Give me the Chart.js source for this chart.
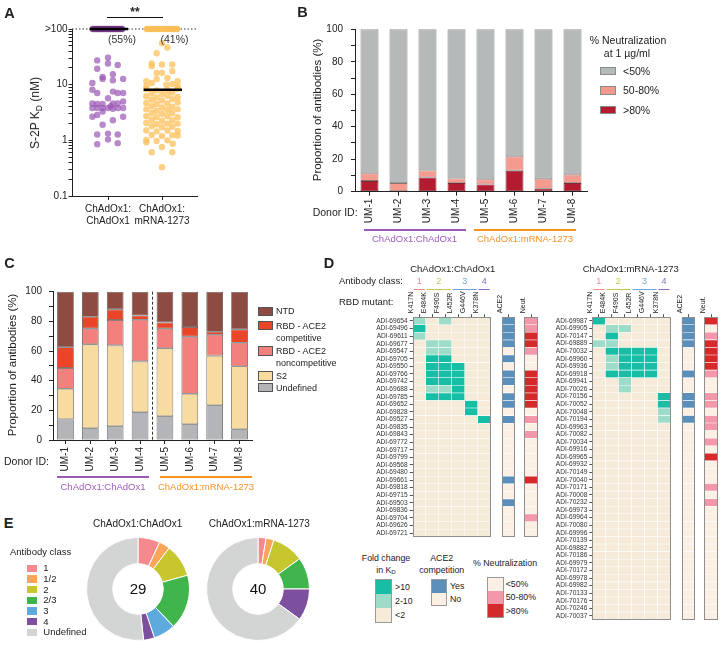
<!DOCTYPE html>
<html><head><meta charset="utf-8"><title>Figure</title>
<script src="https://cdn.jsdelivr.net/npm/chart.js@4.4.1/dist/chart.umd.min.js"></script>
<style>
html,body{margin:0;padding:0;background:#fff;}
#root{position:relative;width:721px;height:652px;overflow:hidden;font-family:"Liberation Sans",Arial,Helvetica,sans-serif;color:#222;}
#root canvas{position:absolute;}
.t{position:absolute;white-space:nowrap;line-height:1;}
.t sub{font-size:0.7em;vertical-align:-0.3em;line-height:0;}
</style></head><body><div id="root"></div>
<script>
// ================= DATA =================
// ---- Panel A: S-2P KD (nM) ----
const xLabelsA = [['ChAdOx1:', 'ChAdOx1'], ['ChAdOx1:', 'mRNA-1273']];
const kdTickValues = [0.1, 1, 10, 100];
const kdTickLabels = ['0.1', '1', '10', '>100'];
const purpleKd = [30.5,27.3,24.0,22.5,19.3,15.4,13.8,12.7,12.0,12.7,10.7,8.1,7.1,7.5,7.1,7.1,5.7,4.6,4.5,4.5,4.6,4.6,5.0,3.8,3.8,3.8,3.8,3.7,3.8,3.8,4.1,3.3,2.65,2.85,2.3,2.65,1.9,1.27,1.32,1.04,1.27,0.85,0.89];
const purpleJit = [0,-0.2,0,0.18,-0.2,0.09,-0.1,-0.1,0.09,0.28,-0.29,-0.29,-0.2,0.09,0.18,0.28,0,-0.29,-0.2,-0.1,0.09,0.18,0.28,-0.29,-0.2,-0.1,0,0.09,0.18,0.28,0.05,-0.1,-0.29,-0.2,0.09,0.28,-0.1,-0.2,0,0,0.18,-0.2,0.18];
const purpleTopJit = [-0.28,-0.25,-0.22,-0.19,-0.16,-0.13,-0.1,-0.07,-0.04,-0.01,0.02,0.05,0.08,0.11,0.14,0.17,0.2,0.23,0.26];
const yellowKd = [55.6,46.4,36.6,24.1,23.1,23.1,21.5,16.3,16.3,17.5,13.2,12.7,11.5,11.5,10.7,10.0,9.3,9.3,10.3,
  8.3,7.9,8.0,8.4, 7.1,6.8,7.2, 6.2,5.9,6.3,6.0, 5.4,5.2,5.5, 4.7,4.5,4.6,4.8, 4.1,3.9,4.0, 3.6,3.4,3.5,3.6,
  3.1,3.0,3.1, 2.7,2.6,2.7,2.6, 2.35,2.25,2.3, 2.05,1.95,2.0,2.0, 1.8,1.72,1.76, 1.5,1.45,1.5,1.47,
  1.25,1.2,1.24,1.22, 1.02,0.97,1.0, 0.87,0.76,0.61,0.61,0.33,0.92];
const yellowJit = [0,0.1,-0.1,-0.19,0,0.19,-0.19,-0.1,0,0.19,0.1,-0.1,-0.29,0.29,-0.19,0.08,-0.29,0.29,0.19,
  -0.29,-0.1,0.1,0.29, -0.19,0,0.19, -0.29,-0.1,0.1,0.29, -0.19,0,0.19, -0.29,-0.1,0.1,0.29, -0.19,0,0.19, -0.29,-0.1,0.1,0.29,
  -0.19,0,0.19, -0.29,-0.1,0.1,0.29, -0.19,0,0.19, -0.29,-0.1,0.1,0.29, -0.19,0,0.19, -0.29,-0.1,0.1,0.29,
  -0.19,0,0.19,0.29, -0.29,-0.1,0.1, 0.2,0,-0.19,0.19,0,-0.29];
const yellowTopJit = [-0.28,-0.22,-0.17,-0.11,-0.06,0,0.06,0.11,0.17,0.22,0.28];
const kdMedians = [100, 8.1];
const topPct = ['(55%)', '(41%)'];

// ---- Panel B: % neutralization at 1 ug/ml ----
const donors = ['UM-1','UM-2','UM-3','UM-4','UM-5','UM-6','UM-7','UM-8'];
const neutBins = ['<50%', '50-80%', '>80%'];
const neutOver80 = [6.6, 0, 8.8, 5.3, 4.5, 12.9, 1.8, 5.3];
const neut50to80 = [4.7, 5.3, 4.3, 2.9, 3.1, 8.9, 6.2, 5.4];
const neutUnder50 = [88.7, 94.7, 86.9, 91.8, 92.4, 78.2, 92.0, 89.3];

// ---- Panel C: epitope specificity ----
const epitopeNames = ['NTD', 'RBD - ACE2\ncompetitive', 'RBD - ACE2\nnoncompetitive', 'S2', 'Undefined'];
const undefinedPct = [13.9, 7.9, 9.2, 18.7, 16.0, 10.6, 23.4, 7.2];
const s2Pct = [20.7, 56.6, 54.6, 34.3, 45.8, 20.6, 33.5, 42.5];
const rbdNoncompPct = [13.9, 10.6, 17.1, 28.1, 13.3, 38.5, 14.1, 15.9];
const rbdCompPct = [14.0, 8.0, 7.2, 2.9, 4.2, 6.5, 2.0, 9.0];
const ntdPct = [37.5, 16.9, 11.9, 16.0, 20.7, 23.8, 27.0, 25.4];

// ---- Panel D: heatmaps (fold: 0 <2, 1 2-10, 2 >10; ace2: 0 No, 1 Yes; neut: 0 <50, 1 50-80, 2 >80) ----
const mutants = ['K417N','E484K','F490S','L452R','G446V','K378N'];
const leftIds = ['ADI-69654','ADI-69496','ADI-69611','ADI-69677','ADI-69547','ADI-69705','ADI-69550','ADI-69766','ADI-69742','ADI-69688','ADI-69785','ADI-69652','ADI-69828','ADI-69527','ADI-69835','ADI-69843','ADI-69772','ADI-69717','ADI-69799','ADI-69568','ADI-69480','ADI-69661','ADI-69818','ADI-69715','ADI-69503','ADI-69836','ADI-69704','ADI-69626','ADI-69721'];
const leftFold = ['101000','200000','100000','011000','011000','022000','022200','022200','022200','011200','022200','000020','000020','000002',
  '000000','000000','000000','000000','000000','000000','000000','000000','000000','000000','000000','000000','000000','000000','000000'];
const leftAce2 = [1,1,1,1,0,1,0,1,1,0,1,1,0,1,0,0,0,0,0,0,0,1,0,0,1,0,0,0,0];
const leftNeut = [1,1,2,2,1,0,0,2,2,2,2,2,0,1,0,1,0,0,0,0,0,2,0,0,0,0,1,0,0];
const rightIds = ['ADI-69987','ADI-69905','ADI-70147','ADI-69889','ADI-70032','ADI-69960','ADI-69936','ADI-69918','ADI-69941','ADI-70026','ADI-70156','ADI-70052','ADI-70048','ADI-70194','ADI-69963','ADI-70082','ADI-70034','ADI-69916','ADI-69965','ADI-69932','ADI-70149','ADI-70040','ADI-70171','ADI-70008','ADI-70232','ADI-69973','ADI-69964','ADI-70080','ADI-69996','ADI-70139','ADI-69882','ADI-70186','ADI-69979','ADI-70172','ADI-69978','ADI-69982','ADI-70133','ADI-70176','ADI-70246','ADI-70037'];
const rightFold = ['200000','011000','020000','110000','022220','012220','012220','022220','001000','001000','000002','000002','000001','000001',
  '000000','000000','000000','000000','000000','000000','000000','000000','000000','000000','000000','000000','000000','000000','000000','000000',
  '000000','000000','000000','000000','000000','000000','000000','000000','000000','000000'];
const rightAce2 = [1,1,1,1,0,0,0,1,0,0,1,1,0,1,0,0,0,0,0,0,0,0,0,0,0,0,0,0,0,0,0,0,0,0,0,0,0,0,0,0];
const rightNeut = [2,0,1,2,2,2,2,1,0,0,1,1,0,1,1,0,1,0,2,0,0,0,1,0,1,0,0,0,0,0,0,0,0,0,0,0,0,0,0,0];

// ---- Panel E: antibody class ----
const classLabels = ['1','1/2','2','2/3','3','4','Undefined'];
const classCountsCC = [2,1,3,5,2,1,15];
const classCountsCM = [1,1,4,4,0,4,26];

// ================= STYLE =================
const FONT = '"Liberation Sans", Arial, Helvetica, sans-serif';
const PURPLE = '#9b59b6', ORANGE = '#f7941d', PURPLE_T = '#a05bbd', ORANGE_T = '#f5922a';
const NEUT_B_COLORS = ['#b6b9b9', '#f59a8f', '#b41a30'];
const EPI_COLORS = ['#8d4b41', '#ea4527', '#f3807c', '#f7dba0', '#b3b5b8'];
const FOLD_COL = ['#f6ebd9', '#9edcca', '#17bea5'];
const ACE2_COL = ['#fcefe3', '#5a8fbb'];
const NEUT_COL = ['#fcefe3', '#f397aa', '#d42a2a'];
const CLASS_COLORS = ['#f5898d', '#faa55a', '#c6c72e', '#3fb54b', '#5ea9de', '#7c4f9f', '#d3d4d4'];
const HEAD_COLORS = ['#f2888c', '#c3c84c', '#6fa6dc', '#8a6bbd'];
const ACE2_X = 6.85, NEUT_X = 8.6, COLW = 1.02, HEAT_MAX = 9.62;

Chart.defaults.font.family = FONT;
Chart.defaults.color = '#222';
Chart.defaults.animation = false;
Chart.defaults.events = [];
Chart.defaults.plugins.legend.display = false;
Chart.defaults.plugins.tooltip.enabled = false;
Chart.defaults.responsive = false;
Chart.defaults.maintainAspectRatio = false;

const root = document.getElementById('root');
function mkCanvas(x, y, w, h) {
  const c = document.createElement('canvas');
  c.width = w; c.height = h;
  c.style.left = x + 'px'; c.style.top = y + 'px'; c.style.width = w + 'px'; c.style.height = h + 'px';
  root.appendChild(c); return c;
}
function txt(x, y, html, o = {}) {
  const d = document.createElement('div'); d.className = 't'; d.innerHTML = html;
  d.style.left = x + 'px'; d.style.top = y + 'px';
  d.style.fontSize = (o.size || 10) + 'px';
  if (o.bold) d.style.fontWeight = 'bold';
  if (o.color) d.style.color = o.color;
  const ax = o.align === 'left' ? '0%' : o.align === 'right' ? '-100%' : '-50%';
  d.style.transform = `translate(${ax},-50%)` + (o.rot ? ` rotate(${o.rot}deg)` : '');
  root.appendChild(d); return d;
}
function rect(x, y, w, h, style) {
  const d = document.createElement('div');
  d.style.cssText = `position:absolute;left:${x}px;top:${y}px;width:${w}px;height:${h}px;box-sizing:border-box;${style}`;
  root.appendChild(d); return d;
}
const esc = s => s.replace(/&/g, '&amp;').replace(/</g, '&lt;').replace(/>/g, '&gt;');

// ================= PANEL A =================
const aPlugin = {
  id: 'aExtras',
  beforeDatasetsDraw(chart) {
    const {ctx, chartArea: ca, scales: {y}} = chart;
    const py = y.getPixelForValue(100);
    ctx.save(); ctx.strokeStyle = '#333'; ctx.lineWidth = 1; ctx.setLineDash([1.5, 2]);
    ctx.beginPath(); ctx.moveTo(ca.left, py); ctx.lineTo(ca.right, py); ctx.stroke(); ctx.restore();
  },
  afterDatasetsDraw(chart) {
    const {ctx, scales: {x, y}} = chart;
    ctx.save(); ctx.strokeStyle = '#000'; ctx.lineWidth = 2.6;
    kdMedians.forEach((m, i) => {
      const py = y.getPixelForValue(m);
      ctx.beginPath(); ctx.moveTo(x.getPixelForValue(i + 1 - 0.34), py); ctx.lineTo(x.getPixelForValue(i + 1 + 0.37), py); ctx.stroke();
    });
    ctx.restore();
  }
};
const ptsA = (vals, jit, g) => vals.map((v, i) => ({x: g + jit[i], y: v}));
new Chart(mkCanvas(0, 0, 240, 240), {
  type: 'scatter',
  data: {datasets: [
    {data: ptsA(purpleKd, purpleJit, 1), backgroundColor: 'rgba(152,86,180,0.7)'},
    {data: purpleTopJit.map(j => ({x: 1 + j, y: 100})), backgroundColor: 'rgba(112,52,132,0.8)'},
    {data: ptsA(yellowKd, yellowJit, 2), backgroundColor: 'rgba(252,190,84,0.72)'},
    {data: yellowTopJit.map(j => ({x: 2 + j, y: 100})), backgroundColor: 'rgba(250,190,85,0.9)'}
  ].map(d => Object.assign(d, {pointRadius: 3.2, borderWidth: 0, clip: false}))},
  options: {
    devicePixelRatio: 1,
    layout: {padding: {left: 32, top: 29, right: 43, bottom: 10}},
    scales: {
      x: {type: 'linear', min: 0.333, max: 2.648,
        afterBuildTicks: s => { s.ticks = [{value: 1}, {value: 2}]; },
        afterFit: s => { s.height = 34; },
        grid: {drawOnChartArea: false, tickLength: 4, color: '#222'},
        border: {color: '#222'},
        ticks: {autoSkip: false, maxRotation: 0, padding: 3, font: {size: 10}, color: '#222',
          callback: (v, i) => xLabelsA[i]}},
      y: {type: 'logarithmic', min: 0.1, max: 100,
        afterBuildTicks: s => { const t = []; [0.1, 1, 10].forEach(e => { for (let k = 1; k < 10; k++) t.push({value: k * e}); }); t.push({value: 100}); s.ticks = t; },
        afterFit: s => { s.width = 40; },
        grid: {drawOnChartArea: false, tickLength: 3.5, color: '#222'},
        border: {color: '#222'},
        ticks: {autoSkip: false, padding: 1, font: {size: 10}, color: '#222',
          callback: v => { const i = kdTickValues.findIndex(t => Math.abs(v - t) < t * 1e-6); return i >= 0 ? kdTickLabels[i] : ''; }}}
    }
  },
  plugins: [aPlugin]
});

// ================= PANEL B =================
new Chart(mkCanvas(290, 0, 305, 250), {
  type: 'bar',
  data: {labels: donors, datasets: [
    {label: neutBins[2], data: neutOver80, backgroundColor: NEUT_B_COLORS[2], borderColor: '#7a2a33'},
    {label: neutBins[1], data: neut50to80, backgroundColor: NEUT_B_COLORS[1], borderColor: '#8a7470'},
    {label: neutBins[0], data: neutUnder50, backgroundColor: NEUT_B_COLORS[0], borderColor: '#707373'}
  ].map(d => Object.assign(d, {borderWidth: 0.9, borderSkipped: false, barPercentage: 0.62, categoryPercentage: 1}))},
  options: {
    devicePixelRatio: 1,
    layout: {padding: {left: 25, top: 29.3, right: 8, bottom: 23.3}},
    scales: {
      x: {stacked: true, afterFit: s => { s.height = 35; },
        grid: {drawOnChartArea: false, offset: false, tickLength: 4, color: '#222'}, border: {color: '#222'},
        ticks: {minRotation: 90, maxRotation: 90, padding: 3, font: {size: 10}, color: '#222'}},
      y: {stacked: true, min: 0, max: 100, afterFit: s => { s.width = 40; },
        grid: {drawOnChartArea: false, tickLength: 4, color: '#222'}, border: {color: '#222'},
        ticks: {stepSize: 10, autoSkip: false, padding: 8, font: {size: 10}, color: '#222', callback: v => (v % 20 === 0 ? v : '')}}
    }
  }
});

// ================= PANEL C =================
const cPlugin = {
  id: 'cDash',
  afterDatasetsDraw(chart) {
    const {ctx, chartArea: ca, scales: {x}} = chart;
    const px = (x.getPixelForValue(3) + x.getPixelForValue(4)) / 2;
    ctx.save(); ctx.strokeStyle = '#333'; ctx.lineWidth = 1; ctx.setLineDash([3, 2]);
    ctx.beginPath(); ctx.moveTo(px, ca.top); ctx.lineTo(px, ca.bottom); ctx.stroke(); ctx.restore();
  }
};
const cSeries = [undefinedPct, s2Pct, rbdNoncompPct, rbdCompPct, ntdPct];
const cColorIdx = [4, 3, 2, 1, 0];
new Chart(mkCanvas(0, 255, 265, 225), {
  type: 'bar',
  data: {labels: donors, datasets: cSeries.map((s, k) => ({
    label: epitopeNames[cColorIdx[k]], data: s, backgroundColor: EPI_COLORS[cColorIdx[k]],
    borderColor: '#4d4d4d', borderWidth: 0.8, borderSkipped: false, barPercentage: 0.67, categoryPercentage: 1}))},
  options: {
    devicePixelRatio: 1,
    layout: {padding: {left: 13, top: 36.7, right: 13, bottom: 5}},
    scales: {
      x: {stacked: true, afterFit: s => { s.height = 35; },
        grid: {drawOnChartArea: false, offset: false, tickLength: 4, color: '#222'}, border: {color: '#222'},
        ticks: {minRotation: 90, maxRotation: 90, padding: 3, font: {size: 10}, color: '#222'}},
      y: {stacked: true, min: 0, max: 100, afterFit: s => { s.width = 40; },
        grid: {drawOnChartArea: false, tickLength: 4, color: '#222'}, border: {color: '#222'},
        ticks: {stepSize: 10, autoSkip: false, padding: 7, font: {size: 10}, color: '#222', callback: v => (v % 20 === 0 ? v : '')}}
    }
  },
  plugins: [cPlugin]
});

// ================= PANEL D =================
const classGroups = [
  {label: '1', from: 0, to: 1, color: HEAD_COLORS[0]},
  {label: '2', from: 1, to: 3, color: HEAD_COLORS[1]},
  {label: '3', from: 3, to: 5, color: HEAD_COLORS[2]},
  {label: '4', from: 5, to: 6, color: HEAD_COLORS[3]}
];
const heatPlugin = {
  id: 'heat',
  afterDatasetsDraw(chart) {
    const {ctx, chartArea: ca, scales: {x}} = chart;
    ctx.save();
    ctx.strokeStyle = '#8e8e8e'; ctx.lineWidth = 1;
    [[0, mutants.length], [ACE2_X, ACE2_X + COLW], [NEUT_X, NEUT_X + COLW]].forEach(([a, b]) => {
      const x0 = Math.round(x.getPixelForValue(a)) + 0.5, x1 = Math.round(x.getPixelForValue(b)) - 0.5;
      const y0 = Math.round(ca.top) + 0.5, y1 = Math.round(ca.bottom) - 0.5;
      ctx.strokeRect(x0, y0, x1 - x0, y1 - y0);
    });
    ctx.font = '9px ' + FONT; ctx.textAlign = 'center'; ctx.textBaseline = 'middle';
    classGroups.forEach(g => {
      const x0 = x.getPixelForValue(g.from) + 1, x1 = x.getPixelForValue(g.to) - 1;
      ctx.strokeStyle = g.color; ctx.beginPath(); ctx.moveTo(x0, Math.round(ca.top - 28) + 0.5); ctx.lineTo(x1, Math.round(ca.top - 28) + 0.5); ctx.stroke();
      ctx.fillStyle = g.color; ctx.fillText(g.label, (x0 + x1) / 2, ca.top - 36);
    });
    ctx.restore();
  }
};
const heatColLabels = mutants.concat(['ACE2', 'Neut.']);
const heatTickPos = mutants.map((m, i) => i + 0.5).concat([ACE2_X + COLW / 2, NEUT_X + COLW / 2]);
function heatChart(canvas, ids, fold, ace2, neut, pad) {
  const ds = [];
  mutants.forEach((m, c) => ds.push({data: ids.map(() => [c, c + 1]), backgroundColor: fold.map(r => FOLD_COL[+r[c]]),
    borderColor: fold.map(r => +r[c] ? 'rgba(255,255,255,0.7)' : 'rgba(255,255,255,0.45)')}));
  ds.push({data: ids.map(() => [ACE2_X, ACE2_X + COLW]), backgroundColor: ace2.map(v => ACE2_COL[v]),
    borderColor: ace2.map(v => v ? 'rgba(255,255,255,0.7)' : 'rgba(255,255,255,0.45)')});
  ds.push({data: ids.map(() => [NEUT_X, NEUT_X + COLW]), backgroundColor: neut.map(v => NEUT_COL[v]),
    borderColor: neut.map(v => v ? 'rgba(255,255,255,0.7)' : 'rgba(255,255,255,0.45)')});
  ds.forEach(d => Object.assign(d, {grouped: false, barPercentage: 1, categoryPercentage: 1, borderWidth: 0.6, borderSkipped: false}));
  return new Chart(canvas, {
    type: 'bar',
    data: {labels: ids, datasets: ds},
    options: {
      devicePixelRatio: 1,
      indexAxis: 'y',
      layout: {padding: pad},
      scales: {
        x: {type: 'linear', position: 'top', min: 0, max: HEAT_MAX,
          afterBuildTicks: s => { s.ticks = heatTickPos.map(v => ({value: v})); },
          afterFit: s => { s.height = 30; },
          grid: {drawOnChartArea: false, tickLength: 3, color: '#555'}, border: {display: false},
          ticks: {autoSkip: false, minRotation: 90, maxRotation: 90, padding: 1, font: {size: 7}, color: '#222',
            callback: (v, i) => heatColLabels[i]}},
        y: {afterFit: s => { s.width = 46; },
          grid: {drawOnChartArea: false, offset: false, tickLength: 3, color: '#555'}, border: {display: false},
          ticks: {autoSkip: false, padding: 2, font: {size: 6.6, lineHeight: 1}, color: '#333'}}
      }
    },
    plugins: [heatPlugin]
  });
}
heatChart(mkCanvas(360, 255, 182, 290), leftIds, leftFold, leftAce2, leftNeut, {left: 6.7, top: 32.2, right: 4.3, bottom: 8.2});
heatChart(mkCanvas(540, 255, 181, 370), rightIds, rightFold, rightAce2, rightNeut, {left: 6.3, top: 32.2, right: 3.3, bottom: 5});

// ================= PANEL E =================
const centerPlugin = {
  id: 'center',
  afterDraw(chart) {
    const {ctx, chartArea: ca} = chart;
    const total = chart.data.datasets[0].data.reduce((a, b) => a + b, 0);
    ctx.save(); ctx.font = '15px ' + FONT; ctx.fillStyle = '#111'; ctx.textAlign = 'center'; ctx.textBaseline = 'middle';
    ctx.fillText(String(total), (ca.left + ca.right) / 2, (ca.top + ca.bottom) / 2 + 1); ctx.restore();
  }
};
function donut(canvas, counts) {
  return new Chart(canvas, {
    type: 'doughnut',
    data: {labels: classLabels, datasets: [{data: counts, backgroundColor: CLASS_COLORS, borderColor: '#fff', borderWidth: 1}]},
    options: {devicePixelRatio: 1, cutout: '49%', layout: {padding: 0}},
    plugins: [centerPlugin]
  });
}
donut(mkCanvas(86.3, 537.3, 104, 104), classCountsCC);
donut(mkCanvas(206.3, 537.3, 104, 104), classCountsCM);

// ================= TEXT / ANNOTATIONS =================
// panel letters
txt(9.5, 12.5, 'A', {size: 14.5, bold: true});
txt(302.5, 12, 'B', {size: 14.5, bold: true});
txt(9.5, 263, 'C', {size: 14.5, bold: true});
txt(329, 262.5, 'D', {size: 14.5, bold: true});
txt(8.5, 523, 'E', {size: 14.5, bold: true});

// A
txt(35, 113, 'S-2P K<sub>D</sub> (nM)', {size: 12, rot: -90});
rect(107.3, 17, 55.4, 1.2, 'background:#111');
txt(135, 11.5, '**', {size: 12, bold: true});
txt(122, 38.5, topPct[0], {size: 10.5, color: '#333'});
txt(174.5, 38.5, topPct[1], {size: 10.5, color: '#333'});

// B
txt(318, 110, 'Proportion of antibodies (%)', {size: 11.5, rot: -90});
txt(312.7, 212, 'Donor ID:', {size: 10.5, align: 'left'});
rect(364, 229, 101.7, 1.8, 'background:' + PURPLE);
rect(474, 229, 102, 1.8, 'background:' + ORANGE);
txt(414.5, 239.3, 'ChAdOx1:ChAdOx1', {size: 9.5, color: PURPLE_T});
txt(525, 239.3, 'ChAdOx1:mRNA-1273', {size: 9.5, color: ORANGE_T});
txt(628, 39.5, '% Neutralization', {size: 10.5});
txt(627, 52.5, 'at 1 µg/ml', {size: 10.5});
[0, 1, 2].forEach((k, i) => {
  const cy = 70.7 + i * 19.7;
  rect(600, cy - 4.2, 15.7, 8.4, 'background:' + NEUT_B_COLORS[k] + ';border:1px solid #8a8a8a');
  txt(623, cy, esc(neutBins[k]), {size: 10.5, align: 'left'});
});

// C
txt(12.7, 365, 'Proportion of antibodies (%)', {size: 11.5, rot: -90});
txt(4, 461, 'Donor ID:', {size: 10.5, align: 'left'});
rect(57, 476, 92, 1.8, 'background:' + PURPLE);
rect(160, 476, 92, 1.8, 'background:' + ORANGE);
txt(103, 486.7, 'ChAdOx1:ChAdOx1', {size: 9.5, color: PURPLE_T});
txt(206, 486.7, 'ChAdOx1:mRNA-1273', {size: 9.5, color: ORANGE_T});
const cLegY = [311.3, 325.7, 351, 376, 387.8];
epitopeNames.forEach((n, k) => {
  const cy = cLegY[k];
  rect(258, cy - 4.6, 15, 9.2, 'background:' + EPI_COLORS[k] + ';border:1px solid #555');
  const lines = n.split('\n');
  lines.forEach((l, j) => txt(276, cy + j * 12.3, esc(l), {size: 9, align: 'left'}));
});

// D
txt(339, 281, 'Antibody class:', {size: 9.5, align: 'left'});
txt(339, 301.5, 'RBD mutant:', {size: 9.5, align: 'left'});
txt(452.7, 269, 'ChAdOx1:ChAdOx1', {size: 9.5});
txt(630.7, 269, 'ChAdOx1:mRNA-1273', {size: 9.5});
// D legends
txt(386, 558.3, 'Fold change', {size: 8.8});
txt(386, 569.5, 'in K<sub>D</sub>', {size: 8.8});
const foldLeg = [['&gt;10', 2], ['2-10', 1], ['&lt;2', 0]];
rect(375.2, 578.8, 17, 44, 'border:1px solid #999');
foldLeg.forEach(([l, k], i) => {
  rect(376.2, 579.8 + i * 14, 15, 14, 'background:' + FOLD_COL[k]);
  txt(395, 586.8 + i * 14, l, {size: 8.8, align: 'left'});
});
txt(441.7, 558.3, 'ACE2', {size: 8.8});
txt(441.7, 569.5, 'competition', {size: 8.8});
rect(431.2, 578.8, 16, 27.5, 'border:1px solid #999');
[['Yes', 1], ['No', 0]].forEach(([l, k], i) => {
  rect(432.2, 579.8 + i * 12.8, 14, 12.8, 'background:' + ACE2_COL[k]);
  txt(450, 585.8 + i * 13.2, l, {size: 8.8, align: 'left'});
});
txt(505, 563.3, '% Neutralization', {size: 8.8});
rect(486.5, 577.2, 17, 41, 'border:1px solid #999');
[['&lt;50%', 0], ['50-80%', 1], ['&gt;80%', 2]].forEach(([l, k], i) => {
  rect(487.5, 578.2 + i * 13.1, 15, 13.1, 'background:' + NEUT_COL[k]);
  txt(505.7, 584.2 + i * 13.2, l, {size: 8.8, align: 'left'});
});

// E
txt(137.7, 524, 'ChAdOx1:ChAdOx1', {size: 10});
txt(259.3, 524, 'ChAdOx1:mRNA-1273', {size: 10});
txt(10, 551.7, 'Antibody class', {size: 9.5, align: 'left'});
classLabels.forEach((l, i) => {
  const cy = 568.3 + i * 10.67;
  rect(26.7, cy - 3.8, 10.6, 7.6, 'background:' + CLASS_COLORS[i]);
  txt(43.3, cy, l, {size: 9.5, align: 'left'});
});
</script></body></html>
